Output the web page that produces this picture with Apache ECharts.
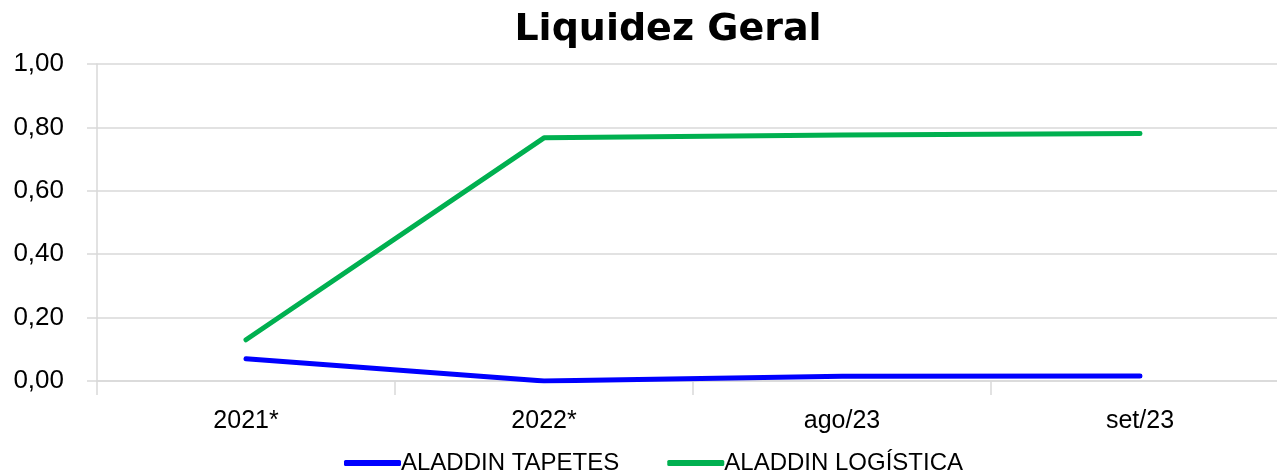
<!DOCTYPE html>
<html>
<head>
<meta charset="utf-8">
<script src="https://cdn.jsdelivr.net/npm/echarts@6/dist/echarts.min.js"></script>
<style>
  html, body { margin: 0; padding: 0; background: #fff; }
  #chart { width: 1277px; height: 472px; }
</style>
</head>
<body>
<div id="chart"></div>
<script>
const categories = ['2021*', '2022*', 'ago/23', 'set/23'];
const tapetes = [0.07, 0.00, 0.015, 0.016];
const logistica = [0.13, 0.767, 0.776, 0.781];

const chart = echarts.init(document.getElementById('chart'));
const labelFont = 'Liberation Sans';
const option = {
  animation: false,
  title: {
    text: 'Liquidez Geral',
    left: 663,
    textAlign: 'center',
    top: 6,
    textStyle: { fontFamily: 'DejaVu Sans', fontWeight: 'bold', fontSize: 38, color: '#000' }
  },
  legend: {
    bottom: -8,
    left: 339,
    itemWidth: 57,
    itemHeight: 6,
    itemGap: 48,
    icon: 'roundRect',
    textStyle: { fontFamily: labelFont, fontSize: 24, color: '#000', padding: [0, 0, 0, -5] },
    data: ['ALADDIN TAPETES', 'ALADDIN LOGÍSTICA']
  },
  // plot area runs a little past the right edge, as in the original crop
  grid: { left: 97, right: -12, top: 64, bottom: 91, outerBoundsMode: 'none', containLabel: false },
  xAxis: {
    type: 'category',
    data: categories,
    boundaryGap: true,
    axisLine: { lineStyle: { color: '#D9D9D9', width: 1.5 } },
    axisTick: { show: true, length: 14, lineStyle: { color: '#D9D9D9', width: 1.5 } },
    axisLabel: { fontFamily: labelFont, fontSize: 25, color: '#000', margin: 28 }
  },
  yAxis: {
    type: 'value',
    min: 0,
    max: 1,
    interval: 0.2,
    axisLine: { show: true, lineStyle: { color: '#D9D9D9', width: 1.5 } },
    axisTick: { show: true, length: 10, lineStyle: { color: '#D9D9D9', width: 1.5 } },
    splitLine: { lineStyle: { color: '#D9D9D9', width: 1.5 } },
    axisLabel: {
      fontFamily: labelFont, fontSize: 26, color: '#000', margin: 33,
      formatter: v => v.toFixed(2).replace('.', ',')
    }
  },
  series: [
    {
      name: 'ALADDIN TAPETES',
      type: 'line',
      data: tapetes,
      symbol: 'none',
      color: '#0000FF',
      lineStyle: { width: 5, color: '#0000FF', cap: 'round', join: 'round' }
    },
    {
      name: 'ALADDIN LOGÍSTICA',
      type: 'line',
      data: logistica,
      symbol: 'none',
      color: '#00B050',
      lineStyle: { width: 5, color: '#00B050', cap: 'round', join: 'round' }
    }
  ]
};
chart.setOption(option);
</script>
</body>
</html>
